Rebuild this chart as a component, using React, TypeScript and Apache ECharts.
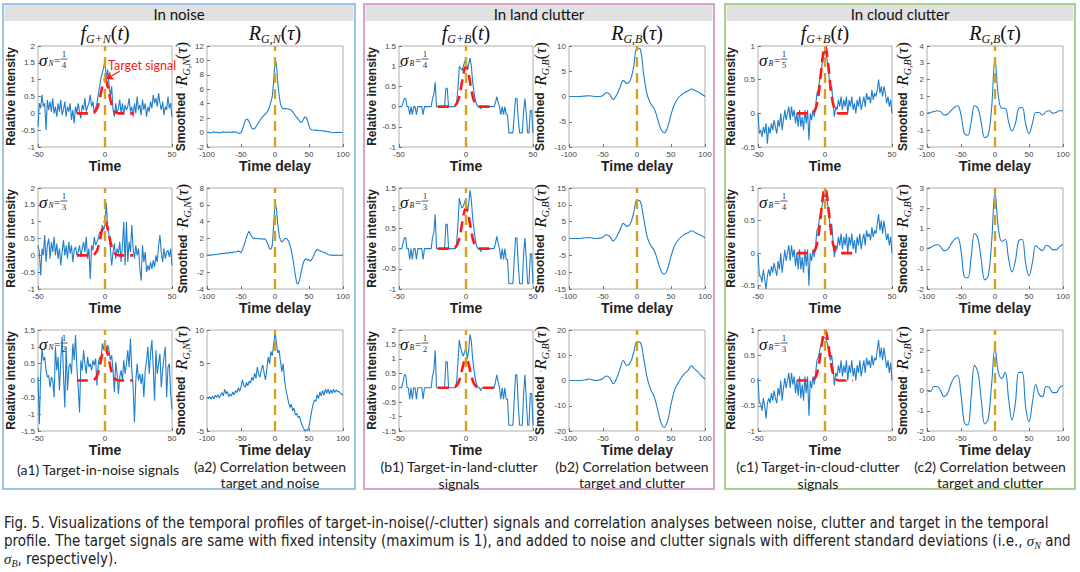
import React, { useEffect, useRef } from "react";
import * as echarts from "echarts";

// ---------- data ----------
// signal plots: t = -50..50, step 1
const SIGNAL_T0 = -50;
// correlation plots: tau = -100..100
const CORR_T0 = -100;
// target pulse: t = -21..21, step 1
const TARGET_T0 = -21;

const targetPulse = [
  0, 0, 0, 0, 0, 0, 0, 0, 0, 0,
  0, 0, 0.01, 0.03, 0.07, 0.14, 0.25, 0.41, 0.61, 0.8,
  0.95, 1.0, 0.95, 0.8, 0.61, 0.41, 0.25, 0.14, 0.07, 0.03,
  0.01, 0, 0, 0, 0, 0, 0, 0, 0, 0,
  0, 0, 0,
];

// (a1) target in noise
const noiseQuarter = [
  -0.4, 0.3, 0.15, 0.55, 0.2, 0.3, -0.5, 0.4, 0.1, 0.35,
  0.05, 0.45, 0.0, 0.2, -0.1, 0.3, 0.05, 0.4, -0.05, 0.1,
  0.35, -0.1, 0.2, 0.05, 0.3, -0.2, 0.1, -0.3, 0.2, 0.0,
  0.3, 0.05, -0.15, 0.25, 0.1, 0.45, 0.05, 0.2, 0.3, 0.55,
  0.2, 0.35, 0.0, 0.15, 0.3, 0.55, 0.8, 1.05, 1.2, 1.35,
  1.6, 1.0, 1.3, 0.85, 0.5, 0.8, 0.1, -0.1, 0.3, 0.0,
  0.15, 0.4, 0.0, 0.3, -0.05, 0.25, 0.1, 0.2, 0.45, 0.05,
  0.2, -0.1, 0.3, 0.0, 0.5, 0.1, 0.25, -0.05, 0.4, 0.1,
  0.3, -0.1, 0.2, 0.05, 0.35, 0.15, 0.55, 0.3, 0.45, 0.2,
  0.6, 0.3, 0.1, 0.35, -0.05, 0.2, 0.1, 0.5, 0.15, 0.3,
  -0.1,
];
const noiseThird = [
  0.3, 0.1, -0.6, 0.2, 0.0, 0.6, -0.2, 0.3, 0.5, -0.1,
  0.4, 0.1, 0.55, 0.0, 0.35, -0.1, 0.2, -0.3, 0.1, 0.45,
  0.0, 0.3, -0.1, 0.4, 0.05, 0.3, -0.2, 0.15, 0.25, 0.0,
  0.1, 0.3, -0.05, 0.2, 0.4, 0.1, 0.55, -0.1, 0.2, -0.7,
  0.3, 0.15, 0.55, 0.3, 0.4, 0.5, 0.7, 0.6, 0.9, 0.75,
  0.95, 1.55, 0.8, 0.6, 0.2, -0.3, 0.1, 0.35, -0.1, 0.2,
  0.05, 0.4, -0.2, 0.3, 1.0, -0.3, 1.0, -0.2, 0.4, 0.1,
  0.9, 0.2, -0.1, 0.3, 0.0, 0.2, -0.4, -0.75, 0.3, -0.2,
  0.1, -0.5, -0.3, -0.45, -0.2, -0.4, -0.15, -0.35, 0.0, -0.2,
  0.3, 0.6, 0.1, -0.2, 0.2, -0.1, 0.1, 0.15, -0.05, 0.2,
  -0.3,
];
const noiseHalf = [
  0.1, -1.3, 0.2, 0.95, 0.6, 0.7, 0.3, 0.1, 0.15, -0.2,
  0.1, 0.0, -0.5, 1.0, 0.3, 0.7, -0.3, 0.6, 1.3, 0.2,
  -0.8, 1.0, -0.3, 0.4, 0.5, 0.2, 1.1, 0.6, 1.35, 0.4,
  -0.2, -0.95, 0.6, 0.3, 0.9, 0.5, 0.2, 0.7, 0.4, 0.5,
  0.3, 0.6, 0.45, 0.65, -0.15, 0.5, 0.7, 0.6, 1.1, 0.9,
  1.2, 0.8, 1.05, 0.9, 0.6, 0.75, 0.3, -0.35, 0.55, 0.2,
  -0.4, 0.1, 0.3, 0.0, 0.6, 0.2, 0.5, 0.9, 0.4, 1.25,
  0.3, -0.2, -1.25, 0.0, 0.5, 0.0, 0.2, -0.1, 0.2, -0.5,
  0.3, 0.6, 1.0, 0.2, 0.8, 1.2, 0.4, -0.6, 0.9, 0.2,
  0.5, 0.8, -0.2, 0.3, 0.7, 1.0, -0.5, 0.4, 0.5, -0.4,
  -0.85,
];

// (a2) correlation target / noise, step 2
const corrNoiseQuarter = [
  0.0, 0.05, 0.0, -0.05, 0.05, 0.1, 0.0, 0.05, 0.0, -0.05,
  0.05, 0.0, 0.1, 0.05, 0.0, 0.05, 0.1, 0.0, 0.05, 0.1,
  0.05, 0.1, 0.0, -0.1, -0.15, 0.0, 0.4, 1.0, 1.6, 1.85,
  1.8, 1.5, 1.0, 0.6, 0.5, 0.55, 0.8, 1.1, 1.4, 1.7,
  2.0, 2.2, 2.4, 2.6, 2.8, 3.1, 3.6, 4.3, 5.0, 7.0,
  10.2, 9.6, 7.0, 5.2, 4.0, 3.5, 3.3, 3.35, 3.3, 3.3,
  3.25, 3.2, 3.1, 2.9, 2.6, 2.3, 2.1, 1.9, 1.6, 1.4,
  1.5, 1.9, 2.2, 2.1, 1.6, 0.9, 0.5, 0.4, 0.35, 0.35,
  0.3, 0.3, 0.3, 0.25, 0.3, 0.25, 0.2, 0.2, 0.15, 0.1,
  0.1, 0.05, 0.0, -0.05, 0.0, 0.05, 0.0, 0.05, 0.0, 0.0,
  0.0,
];
const corrNoiseThird = [
  0.0, 0.0, 0.05, 0.0, 0.1, 0.05, 0.1, 0.1, 0.15, 0.15,
  0.2, 0.2, 0.25, 0.2, 0.3, 0.25, 0.3, 0.35, 0.3, 0.35,
  0.4, 0.4, 0.45, 0.5, 0.45, 0.3, 0.6, 1.1, 1.6, 2.1,
  2.6, 2.85, 2.5, 2.2, 2.0, 2.05, 2.0, 2.0, 1.95, 2.0,
  1.95, 1.9, 2.0, 1.9, 1.6, 1.2, 0.8, 0.7, 1.2, 3.5,
  6.3, 5.6, 3.8, 2.4, 1.8, 1.6, 1.7, 2.0, 2.0, 1.9,
  1.7, 1.2, 0.6, -0.3, -1.3, -2.4, -3.3, -3.4, -3.0, -2.2,
  -1.4, -0.8, -0.5, -0.4, -0.6, -0.5, -0.7, -0.5, -0.2, 0.2,
  0.5, 0.7, 0.6, 0.55, 0.5, 0.4, 0.35, 0.3, 0.2, 0.1,
  0.05, 0.0, 0.05, 0.0, 0.0, 0.05, 0.0, -0.05, 0.0, 0.05,
  0.0,
];
const corrNoiseHalf = [
  0.0, -0.2, 0.1, -0.3, 0.2, -0.2, 0.3, 0.0, 0.4, -0.1,
  0.3, 0.7, 0.2, 1.2, 0.5, 0.9, 0.1, 0.5, 0.2, 0.8,
  0.4, 1.0, 0.7, 1.4, 0.9, 1.5, 2.6, 1.8, 1.5, 2.2,
  1.7, 2.4, 2.1, 3.0, 2.5, 3.6, 2.8, 4.5, 3.4, 3.0,
  4.2, 4.8, 3.6, 2.6, 4.2, 6.0, 5.0, 6.8, 6.2, 7.8,
  9.6, 8.2, 6.6, 7.0, 5.4, 3.8, 5.0, 2.6, 1.2, 0.2,
  -0.8, -1.5, -1.0, -2.0, -1.6, -2.6, -2.4, -3.0, -2.8, -3.6,
  -4.2, -4.6, -5.0, -4.8, -4.9, -4.3, -3.2, -2.0, -1.0, -0.4,
  -0.6, 0.4, -0.2, 0.8, 0.2, 1.0, 0.3, 1.2, 0.6, 1.2,
  0.5, 1.1, 0.6, 1.2, 0.7, 1.1, 0.8, 0.9, 0.6, 0.5,
  0.3,
];

// (b1) target in land clutter
const landQuarter = [
  0, 0, 0, 0.1, 0.2, 0.2, 0, 0, -0.2, 0,
  -0.2, 0, 0, -0.2, 0, 0, 0, 0, -0.2, 0,
  0, 0, 0, 0, 0, 0.2, 0.3, 0.6, 0, 0,
  0, 0, 0, 0, 0, 0.45, 0.45, 0, 0, 0,
  0, 0, 0, 0.1, 0.45, 1.0, 0.95, 0.9, 1.0, 1.1,
  1.2, 0.9, 1.05, 1.2, 1.0, 0.6, 0.35, 0.15, 0.05, 0,
  0, -0.05, 0, 0, 0, 0, 0, 0, 0, 0,
  0, 0, 0.1, 0.25, 0.1, 0, -0.2, 0, -0.2, 0,
  -0.2, -0.2, -0.65, -0.65, -0.65, -0.65, -0.2, 0.2, 0.2, -0.3,
  -0.65, -0.65, -0.65, -0.1, 0.2, -0.2, -0.65, -0.65, -0.1, -0.1,
  -0.65,
];
const landThird = [
  0, 0, 0, 0.13, 0.27, 0.27, 0, 0, -0.27, 0,
  -0.27, 0, 0, -0.27, 0, 0, 0, 0, -0.27, 0,
  0, 0, 0, 0, 0, 0.27, 0.4, 0.85, 0, 0,
  0, 0, 0, 0, 0, 0.6, 0.6, 0, 0, 0,
  0, 0, 0, 0.13, 0.6, 1.25, 1.1, 1.0, 1.05, 1.15,
  1.25, 0.9, 1.1, 1.45, 1.2, 0.75, 0.45, 0.2, 0.05, 0,
  0, -0.07, 0, 0, 0, 0, 0, 0, 0, 0,
  0, 0, 0.13, 0.3, 0.13, 0, -0.27, 0, -0.27, 0,
  -0.27, -0.27, -0.87, -0.87, -0.87, -0.87, -0.27, 0.27, 0.27, -0.4,
  -0.87, -0.87, -0.87, -0.13, 0.27, -0.27, -0.87, -0.87, -0.13, -0.13,
  -0.87,
];
const landHalf = [
  0, 0, 0, 0.2, 0.45, 0.45, 0, 0, -0.4, 0,
  -0.4, 0, 0, -0.4, 0, 0, 0, 0, -0.4, 0,
  0, 0, 0, 0, 0, 0.4, 0.6, 1.3, 0, 0,
  0, 0, 0, 0, 0, 0.9, 0.9, 0, 0, 0,
  0, 0, 0, 0.2, 0.9, 1.65, 1.4, 1.2, 1.1, 1.25,
  1.4, 1.0, 1.3, 1.85, 1.6, 1.0, 0.6, 0.3, 0.1, 0,
  0, -0.1, 0, 0, 0, 0, 0, 0, 0, 0,
  0, 0, 0.2, 0.45, 0.2, 0, -0.4, 0, -0.4, 0,
  -0.4, -0.4, -1.3, -1.3, -1.3, -1.3, -0.4, 0.45, 0.45, -0.6,
  -1.3, -1.3, -1.3, -0.2, 0.45, -0.4, -1.3, -1.3, -0.2, -0.2,
  -1.3,
];

// (b2) correlation target / land clutter, step 5
const corrLandQuarter = [
  0, 0, 0, 0, 0.05, 0.1, 0.15, 0.05, 0, 0,
  0.2, 0.8, 0.4, -0.6, 0.3, 1.8, 3.2, 2.6, 3.2, 5.8,
  9.6, 9.3, 4.2, 0.3, -1.4, -2.3, -4.3, -6.4, -7.2, -6.1,
  -3.6, -1.6, -0.4, 0.3, 0.8, 1.1, 1.5, 1.2, 0.9, 0.5,
  0.0,
];
const corrLandThird = [
  0, 0, 0, 0, 0.1, 0.2, 0.3, 0.1, 0, 0.1,
  0.4, 1.1, 0.6, -0.7, 0.5, 2.5, 4.5, 3.6, 4.3, 7.5,
  11.4, 11.0, 5.8, 0.5, -2.0, -3.4, -6.3, -9.4, -10.6, -9.0,
  -5.3, -2.3, -0.6, 0.5, 1.2, 1.7, 2.3, 1.8, 1.3, 0.8,
  0.2,
];
const corrLandHalf = [
  0, 0, 0, 0, 0.1, 0.3, 0.6, 0.2, 0, 0.2,
  0.8, 1.8, 1.0, -1.3, 0.8, 4.5, 7.9, 5.9, 7.0, 11.0,
  15.3, 15.0, 8.5, 1.0, -3.5, -6.2, -11.0, -16.5, -18.6, -16.0,
  -9.5, -4.0, -1.2, 1.0, 2.8, 4.0, 5.8, 4.5, 3.3, 1.8,
  0.5,
];

// (c1) target in cloud clutter
const cloudFifth = [
  0.0, -0.3, -0.25, -0.35, -0.2, -0.3, -0.15, -0.45, -0.2, -0.3,
  -0.15, -0.25, -0.1, -0.2, -0.3, -0.1, -0.2, 0.0, -0.25, -0.1,
  0.05, -0.1, 0.0, 0.1, -0.1, 0.1, -0.05, 0.05, -0.15, 0.0,
  -0.2, 0.05, -0.2, -0.05, -0.25, 0.05, -0.15, 0.05, -0.4, 0.0,
  -0.1, 0.05, -0.05, 0.1, 0.3, 0.35, 0.5, 0.6, 0.75, 0.85,
  0.95, 0.85, 0.75, 0.55, 0.35, 0.4, 0.15, -0.05, 0.1, 0.05,
  0.2, 0.1, 0.25, 0.05, 0.2, 0.1, 0.25, 0.0, 0.2, 0.1,
  0.25, 0.05, 0.15, 0.0, 0.2, 0.1, 0.25, 0.05, 0.15, 0.25,
  0.1, 0.3, 0.2, 0.25, 0.15, 0.35, 0.2, 0.3, 0.25, 0.35,
  0.5, 0.3, 0.4, 0.25, 0.4, 0.3, 0.15, 0.25, 0.1, 0.2,
  0.0,
];
const cloudQuarter = [
  0.0, -0.35, -0.35, -0.45, -0.25, -0.4, -0.55, -0.35, -0.25, -0.35,
  -0.2, -0.3, -0.15, -0.25, -0.35, -0.12, -0.25, 0.0, -0.3, -0.12,
  0.05, -0.12, 0.0, 0.12, -0.12, 0.12, -0.06, 0.06, -0.2, 0.0,
  -0.25, 0.06, -0.25, -0.06, -0.3, 0.06, -0.2, 0.06, -0.5, 0.0,
  -0.12, 0.06, -0.06, 0.12, 0.35, 0.4, 0.55, 0.65, 0.75, 0.85,
  0.9, 0.85, 0.75, 0.55, 0.4, 0.45, 0.2, -0.06, 0.12, 0.06,
  0.25, 0.12, 0.3, 0.06, 0.25, 0.12, 0.3, 0.0, 0.25, 0.12,
  0.3, 0.06, 0.2, 0.0, 0.25, 0.12, 0.3, 0.06, 0.2, 0.3,
  0.12, 0.35, 0.25, 0.3, 0.2, 0.4, 0.25, 0.35, 0.3, 0.45,
  0.6, 0.35, 0.5, 0.3, 0.5, 0.35, 0.2, 0.3, 0.12, 0.25,
  0.0,
];
const cloudThird = [
  0.05, -0.45, -0.45, -0.6, -0.35, -0.5, -0.75, -0.45, -0.35, -0.45,
  -0.25, -0.4, -0.2, -0.35, -0.45, -0.15, -0.3, 0.0, -0.4, -0.15,
  0.05, -0.15, 0.0, 0.15, -0.15, 0.15, -0.08, 0.08, -0.25, 0.0,
  -0.3, 0.08, -0.35, -0.08, -0.4, 0.08, -0.25, 0.08, -0.7, 0.0,
  -0.15, 0.08, -0.08, 0.15, 0.4, 0.45, 0.6, 0.7, 0.75, 0.85,
  0.85, 0.8, 0.7, 0.55, 0.4, 0.5, 0.25, -0.1, 0.15, 0.08,
  0.3, 0.15, 0.4, 0.08, 0.3, 0.15, 0.4, 0.0, 0.3, 0.15,
  0.4, 0.08, 0.25, 0.0, 0.3, 0.15, 0.4, 0.08, 0.25, 0.4,
  0.15, 0.45, 0.3, 0.4, 0.25, 0.5, 0.3, 0.45, 0.4, 0.6,
  0.8, 0.45, 0.65, 0.4, 0.65, 0.45, 0.25, 0.4, 0.15, 0.35,
  0.0,
];

// (c2) correlation target / cloud clutter, step 5
const corrCloudFifth = [
  0.0, 0.05, 0.1, 0.15, 0.1, -0.1, -0.05, 0.15, 0.35, 0.45,
  -0.1, -1.2, -1.3, -0.5, 0.45, 0.3, -0.6, -1.45, -1.3, 0.3,
  3.2, 1.0, 0.3, 0.3, -0.5, -1.05, -0.6, 0.3, 0.35, -0.6,
  -1.2, -0.6, 0.05, 0.05, -0.1, 0.1, 0.15, 0.0, 0.05, 0.15,
  0.15,
];
const corrCloudQuarter = [
  0.0, 0.05, 0.15, 0.2, 0.1, -0.1, -0.05, 0.2, 0.45, 0.55,
  -0.1, -1.4, -1.45, -0.4, 0.75, 0.5, -0.6, -1.55, -1.35, 0.3,
  2.8, 1.0, 0.35, 0.45, -0.5, -1.15, -0.6, 0.4, 0.45, -0.7,
  -1.35, -0.7, 0.15, 0.0, -0.1, 0.15, 0.1, -0.05, -0.05, 0.1,
  0.2,
];
const corrCloudThird = [
  0.0, -0.05, 0.2, 0.2, 0.0, -0.3, -0.15, 0.3, 0.65, 0.75,
  -0.2, -1.6, -1.7, -0.3, 1.25, 0.9, -0.5, -1.65, -1.4, 0.3,
  2.1, 0.9, 0.6, 0.9, -0.4, -1.45, -0.6, 0.9, 0.9, -0.8,
  -1.55, -0.6, 0.3, -0.2, -0.3, 0.2, 0.15, -0.1, -0.1, 0.15,
  0.25,
];

// axis ranges [min, max, interval]
const signalRanges = [
  [[-1, 2, 0.5], [-1, 2, 0.5], [-1.5, 1.5, 0.5]],
  [[-1, 1.5, 0.5], [-1, 1.5, 0.5], [-1.5, 2, 0.5]],
  [[-0.5, 1, 0.5], [-0.55, 1, 0], [-1, 1, 0.5]],
];
const cloudQuarterTicks = [-0.5, 0, 0.5, 1];
const corrRanges = [
  [[-2, 12, 2], [-4, 8, 2], [-5, 10, 5]],
  [[-10, 10, 5], [-15, 15, 5], [-20, 20, 10]],
  [[-2, 4, 1], [-2, 3, 1], [-2, 3, 1]],
];
const sigmaDenominators = [["4", "3", "2"], ["4", "3", "2"], ["5", "4", "3"]];

// ---------- style ----------
const SANS = "'Liberation Sans', Arial, sans-serif";
const SERIF = "'Liberation Serif', 'Times New Roman', serif";
const CAL = "Lato, 'Open Sans', sans-serif";
const NARROW = "'Liberation Sans Narrow', 'DejaVu Sans Condensed', 'Liberation Sans', sans-serif";
const BLUE = "#1f7fcc";
const RED = "#ff1a1a";
const GOLD = "#d6a21c";
const FRAME = "#9a9a9a";
const NAVY = "#25335f";

const ROW_TOP = [46, 188, 330];
const PLOT_H = 101;
const SIG_W = 134;
const COR_W = 136;

const panels = [
  {
    title: "In noise", border: "#9dc3e6", box: [3, 352], sub: "N", fSub: "G+N", rSub: "G,N",
    sigX: 38, corX: 207,
    signals: [noiseQuarter, noiseThird, noiseHalf],
    corrs: [corrNoiseQuarter, corrNoiseThird, corrNoiseHalf], corrStep: 2,
    capL: ["(a1) Target-in-noise signals"], capR: ["(a2) Correlation between", "target and noise"],
  },
  {
    title: "In land clutter", border: "#d9a3cf", box: [364, 350], sub: "B", fSub: "G+B", rSub: "G,B",
    sigX: 399, corX: 569,
    signals: [landQuarter, landThird, landHalf],
    corrs: [corrLandQuarter, corrLandThird, corrLandHalf], corrStep: 5,
    capL: ["(b1) Target-in-land-clutter", "signals"], capR: ["(b2) Correlation between", "target and clutter"],
  },
  {
    title: "In cloud clutter", border: "#a9d18e", box: [725, 350], sub: "B", fSub: "G+B", rSub: "G,B",
    sigX: 758, corX: 927,
    signals: [cloudFifth, cloudQuarter, cloudThird],
    corrs: [corrCloudFifth, corrCloudQuarter, corrCloudThird], corrStep: 5,
    capL: ["(c1) Target-in-cloud-clutter", "signals"], capR: ["(c2) Correlation between", "target and clutter"],
  },
];

const toPairs = (start: number, step: number, values: number[]) =>
  values.map((v, i) => [start + i * step, v]);

const mathRich = (size: number, subSize: number) => ({
  i: { fontFamily: SERIF, fontStyle: "italic", fontSize: size, lineHeight: size * 1.2, color: "#111", fill: "#111" },
  n: { fontFamily: SERIF, fontSize: size, lineHeight: size * 1.2, color: "#111", fill: "#111" },
  s: { fontFamily: SERIF, fontStyle: "italic", fontSize: subSize, lineHeight: subSize * 0.8, verticalAlign: "bottom", color: "#111", fill: "#111" },
  b: { fontFamily: SANS, fontWeight: "bold", fontSize: 12, lineHeight: size * 1.2, color: "#222", fill: "#222" },
  d: { fontFamily: SANS, fontSize: 10, lineHeight: size * 1.2, color: "#888", fill: "#888" },
});

const txt = (x: number, y: number, text: string, style: any) => ({
  type: "text", x, y, z: 100, silent: true, style: { text, ...style },
});

function sigmaLabel(L: number, T: number, sub: string, den: string) {
  return [
    txt(L + 1, T + 14, "σ", { fontFamily: SERIF, fontStyle: "italic", fontSize: 17, fill: "#111", verticalAlign: "middle" }),
    txt(L + 10.5, T + 17.5, sub, { fontFamily: SERIF, fontStyle: "italic", fontSize: 7.5, fill: "#111", verticalAlign: "middle" }),
    txt(L + 16, T + 13.5, "=", { fontFamily: SERIF, fontSize: 11, fill: "#111", verticalAlign: "middle" }),
    txt(L + 26, T + 8, "1", { fontFamily: SERIF, fontSize: 9, fill: NAVY, align: "center", verticalAlign: "middle" }),
    {
      type: "line", z: 100, silent: true,
      shape: { x1: L + 22.5, y1: T + 13, x2: L + 29.5, y2: T + 13 },
      style: { stroke: NAVY, lineWidth: 0.8 },
    },
    txt(L + 26, T + 18.5, den, { fontFamily: SERIF, fontSize: 9, fill: NAVY, align: "center", verticalAlign: "middle" }),
  ];
}

function buildOption(): any {
  const grid: any[] = [];
  const xAxis: any[] = [];
  const yAxis: any[] = [];
  const series: any[] = [];
  const graphic: any[] = [];

  const goldLine = {
    silent: true,
    symbol: ["none", "none"],
    label: { show: false },
    lineStyle: { color: GOLD, width: 2.4, type: [10, 6] },
    data: [{ xAxis: 0 }],
  };

  const addAxes = (
    left: number, top: number, width: number,
    xr: number[], yr: number[], xName: string, yName: string,
    yNameGap: number, rich?: any, ticks?: number[],
  ) => {
    const idx = grid.length;
    grid.push({
      left, top, width, height: PLOT_H, show: true,
      borderColor: FRAME, borderWidth: 0.8, backgroundColor: "transparent",
    });
    const tick = { inside: true, length: 3, lineStyle: { color: "#555", width: 0.8 } };
    const label = { fontSize: 8, color: "#444", margin: 3, fontFamily: SANS };
    xAxis.push({
      gridIndex: idx, type: "value", min: xr[0], max: xr[1], interval: xr[2],
      axisLine: { show: false, onZero: false }, axisTick: { ...tick }, axisLabel: { ...label },
      splitLine: { show: false },
      name: xName, nameLocation: "middle", nameGap: 8,
      nameTextStyle: { fontFamily: SANS, fontWeight: "bold", fontSize: 14, color: "#222" },
    });
    const y: any = {
      gridIndex: idx, type: "value", min: yr[0], max: yr[1],
      axisLine: { show: false, onZero: false }, axisTick: { ...tick }, axisLabel: { ...label },
      splitLine: { show: false },
      name: yName, nameLocation: "middle", nameGap: yNameGap,
      nameTextStyle: rich
        ? { rich }
        : { fontFamily: SANS, fontWeight: "bold", fontSize: 12, color: "#222" },
    };
    if (yr[2]) y.interval = yr[2];
    if (ticks) {
      y.axisLabel.customValues = ticks;
      y.axisTick.customValues = ticks;
    }
    yAxis.push(y);
    return idx;
  };

  panels.forEach((p, pi) => {
    const [bx, bw] = p.box;
    graphic.push({
      type: "rect", z: 90, silent: true,
      shape: { x: bx + 1.5, y: 5, width: bw - 3, height: 16 },
      style: { fill: "#e1e1e1" },
    });
    graphic.push({
      type: "rect", z: 95, silent: true,
      shape: { x: bx, y: 4, width: bw, height: 485 },
      style: { fill: "none", stroke: p.border, lineWidth: 2 },
    });
    graphic.push(txt(bx + bw / 2, 13.5, p.title, { fontFamily: CAL, fontSize: 15, fill: "#111", align: "center", verticalAlign: "middle" }));
    graphic.push(txt(p.sigX + SIG_W / 2, 33, `{i|f}{s|${p.fSub}}{n|(}{i|t}{n|)}`, {
      align: "center", verticalAlign: "middle", rich: mathRich(20, 12),
    }));
    graphic.push(txt(p.corX + COR_W / 2, 33, `{i|R}{s|${p.rSub}}{n|(}{i|τ}{n|)}`, {
      align: "center", verticalAlign: "middle", rich: mathRich(20, 12),
    }));

    // sub-captions
    const capY = p.capL.length === 1 ? [469] : [466, 483];
    p.capL.forEach((line, k) =>
      graphic.push(txt(p.sigX + 60, capY[k], line, { fontFamily: CAL, fontSize: 14, fill: "#222", align: "center", verticalAlign: "middle" })),
    );
    p.capR.forEach((line, k) =>
      graphic.push(txt(p.corX + 63, [466, 482][k], line, { fontFamily: CAL, fontSize: 14, fill: "#222", align: "center", verticalAlign: "middle" })),
    );

    for (let r = 0; r < 3; r++) {
      const top = ROW_TOP[r];
      // signal plot
      const gi = addAxes(
        p.sigX, top, SIG_W, [-50, 50, 50], signalRanges[pi][r],
        "Time", "Relative intensity", 16, undefined,
        pi === 2 && r === 1 ? cloudQuarterTicks : undefined,
      );
      const blue: any = {
        type: "line", xAxisIndex: gi, yAxisIndex: gi, symbol: "none", silent: true,
        data: toPairs(SIGNAL_T0, 1, p.signals[r]),
        lineStyle: { color: BLUE, width: 1.1 }, z: 2,
      };
      if (pi === 0 && r === 0) {
        blue.markLine = {
          silent: true, symbol: ["none", "arrow"], symbolSize: 7,
          label: { show: false },
          lineStyle: { color: RED, width: 1.3, type: "solid" },
          data: [[{ coord: [11, 1.25] }, { coord: [1, 1.02] }]],
        };
      }
      series.push(blue);
      series.push({
        type: "line", xAxisIndex: gi, yAxisIndex: gi, symbol: "none", silent: true,
        data: toPairs(TARGET_T0, 1, targetPulse),
        lineStyle: { color: RED, width: 2.6, type: [11, 6] }, z: 3,
        markLine: goldLine,
      });
      graphic.push(...sigmaLabel(p.sigX, top, p.sub, sigmaDenominators[pi][r]));

      // correlation plot
      const ci = addAxes(
        p.corX, top, COR_W, [-100, 100, 50], corrRanges[pi][r],
        "Time delay", `{b|Smoothed} {d|·}{i|R}{s|${p.rSub}}{n|(}{i|τ}{n|)}`, 8, mathRich(17, 10),
      );
      series.push({
        type: "line", xAxisIndex: ci, yAxisIndex: ci, symbol: "none", silent: true,
        data: toPairs(CORR_T0, p.corrStep, p.corrs[r]),
        smooth: p.corrStep > 2 ? 0.4 : false,
        lineStyle: { color: BLUE, width: 1.1 }, z: 2,
        markLine: goldLine,
      });
    }
  });

  graphic.push(txt(108, 65, "Target signal", { fontFamily: CAL, fontSize: 12.5, fill: RED, verticalAlign: "middle" }));

  // figure caption
  const capStyle = {
    fontFamily: NARROW, fontSize: 15, fill: "#222", verticalAlign: "middle",
    rich: {
      m: { fontFamily: SERIF, fontStyle: "italic", fontSize: 15, fill: "#222", lineHeight: 18 },
      s: { fontFamily: SERIF, fontStyle: "italic", fontSize: 10, fill: "#222", lineHeight: 10, verticalAlign: "bottom" },
    },
  };
  graphic.push(txt(4, 523, "Fig. 5. Visualizations of the temporal profiles of target-in-noise(/-clutter) signals and correlation analyses between noise, clutter and target in the temporal", capStyle));
  graphic.push(txt(4, 541, "profile. The target signals are same with fixed intensity (maximum is 1), and added to noise and clutter signals with different standard deviations (i.e., {m|σ}{s|N} and", capStyle));
  graphic.push(txt(4, 559, "{m|σ}{s|B}, respectively).", capStyle));

  return {
    animation: false,
    backgroundColor: "#fff",
    grid, xAxis, yAxis, series, graphic,
  };
}

export default function App() {
  const ref = useRef<HTMLDivElement | null>(null);

  useEffect(() => {
    if (!ref.current) return;
    const chart = echarts.init(ref.current, null, { renderer: "svg" });
    chart.setOption(buildOption());
    return () => {
      chart.dispose();
    };
  }, []);

  return (
    <div
      ref={ref}
      style={{ position: "absolute", left: 0, top: 0, width: 1080, height: 572, background: "#fff" }}
    />
  );
}
